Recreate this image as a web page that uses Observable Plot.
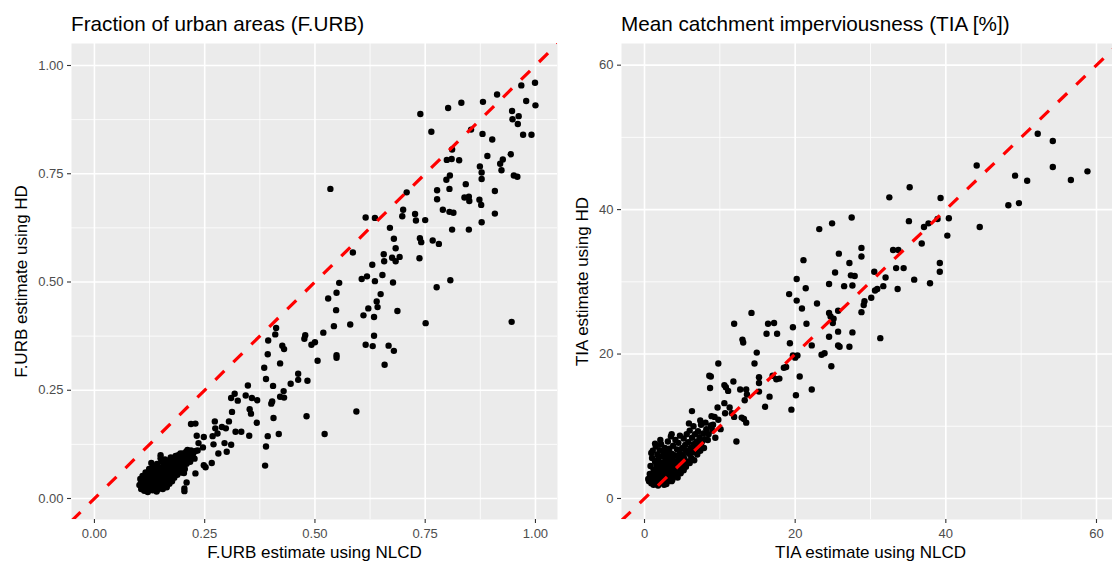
<!DOCTYPE html>
<html><head><meta charset="utf-8">
<script src="https://cdn.jsdelivr.net/npm/d3@7"></script>
<script src="https://cdn.jsdelivr.net/npm/@observablehq/plot@0.6"></script>
<style>
body{margin:0;background:#fff;}
#wrap{position:relative;width:1112px;height:563px;overflow:hidden;background:#fff;font-family:"Liberation Sans",Arial,sans-serif;}
.panel{position:absolute;top:0;height:563px;}
.title{position:absolute;top:14px;font-size:20.7px;line-height:20.7px;color:#000;white-space:nowrap;}
.panel svg{position:absolute;top:43px;left:0;}
</style></head>
<body><div id="wrap"></div>
<script>
// ---------- text ----------
const furbTitle = "Fraction of urban areas (F.URB)";
const furbXLabel = "F.URB estimate using NLCD";
const furbYLabel = "F.URB estimate using HD";
const tiaTitle = "Mean catchment imperviousness (TIA [%])";
const tiaXLabel = "TIA estimate using NLCD";
const tiaYLabel = "TIA estimate using HD";

// ---------- ticks ----------
const furbTicks = [0, 0.25, 0.5, 0.75, 1];
const furbMinor = [0.125, 0.375, 0.625, 0.875];
const tiaTicks = [0, 20, 40, 60];
const tiaMinor = [10, 30, 50];

// ---------- scale ranges ----------
const furbXDomain = [-0.052, 1.050];
const furbYDomain = [-0.0485, 1.0508];
const tiaXDomain = [-3.055, 63.055];
const tiaYDomain = [-2.91, 63.0];

// ---------- F.URB points [NLCD, HD] ----------
const furbUpper = [
[0.535,0.715],[0.739,0.888],[0.802,0.902],[0.832,0.914],[0.881,0.916],[0.913,0.933],[0.968,0.954],[0.999,0.960],[1.000,0.908],[0.979,0.918],
[0.947,0.895],[0.948,0.876],[0.962,0.883],[0.960,0.865],[0.972,0.840],[0.991,0.840],[0.764,0.847],[0.854,0.852],[0.880,0.842],[0.902,0.829],
[0.811,0.806],[0.799,0.782],[0.810,0.784],[0.827,0.781],[0.891,0.791],[0.944,0.795],[0.926,0.783],[0.920,0.773],[0.923,0.758],[0.874,0.767],
[0.878,0.753],[0.878,0.738],[0.951,0.746],[0.959,0.743],[0.806,0.746],[0.798,0.736],[0.805,0.715],[0.842,0.726],[0.777,0.712],[0.908,0.710],
[0.708,0.707],[0.839,0.695],[0.849,0.697],[0.850,0.687],[0.873,0.690],[0.877,0.678],[0.777,0.691],[0.700,0.667],[0.790,0.667],[0.805,0.662],
[0.814,0.660],[0.727,0.657],[0.729,0.642],[0.750,0.643],[0.698,0.652],[0.615,0.649],[0.636,0.648],[0.908,0.658],[0.878,0.638],[0.670,0.625],
[0.811,0.621],[0.849,0.621],[0.679,0.600],[0.738,0.601],[0.741,0.592],[0.767,0.596],[0.781,0.588],[0.586,0.568],[0.656,0.564],[0.683,0.578],
[0.675,0.556],[0.692,0.558],[0.683,0.548],[0.657,0.548],[0.737,0.555],[0.630,0.540],[0.606,0.507],[0.618,0.513],[0.653,0.516],[0.636,0.502],
[0.677,0.499],[0.555,0.498],[0.807,0.504],[0.776,0.488]
];
const furbMiddle = [
[0.946,0.408],[0.751,0.405],[0.687,0.433],[0.649,0.472],[0.640,0.455],[0.642,0.442],[0.621,0.439],[0.610,0.423],[0.634,0.419],[0.634,0.376],
[0.615,0.355],[0.631,0.352],[0.667,0.353],[0.679,0.341],[0.658,0.309],[0.580,0.402],[0.548,0.435],[0.543,0.398],[0.530,0.462],[0.549,0.475],
[0.519,0.383],[0.500,0.361],[0.492,0.355],[0.478,0.377],[0.476,0.369],[0.549,0.331],[0.549,0.325],[0.506,0.318],[0.462,0.288],[0.462,0.274],
[0.483,0.272],[0.445,0.265],[0.594,0.201],[0.481,0.190],[0.522,0.149],[0.412,0.394],[0.410,0.379],[0.394,0.365],[0.393,0.333],[0.385,0.302],
[0.389,0.276],[0.426,0.353],[0.430,0.345],[0.421,0.312],[0.405,0.260],[0.429,0.248],[0.421,0.235],[0.430,0.233],[0.403,0.224],[0.401,0.219],
[0.406,0.186],[0.418,0.149],[0.393,0.144],[0.389,0.120],[0.387,0.076],[0.348,0.261],[0.343,0.238],[0.357,0.232],[0.369,0.227],[0.352,0.206],
[0.355,0.196],[0.368,0.175],[0.351,0.145],[0.318,0.242],[0.310,0.232],[0.325,0.226],[0.312,0.200],[0.305,0.178],[0.320,0.154],[0.333,0.154],
[0.310,0.124],[0.295,0.128],[0.300,0.108],[0.281,0.104],[0.289,0.165],[0.298,0.162],[0.273,0.178],[0.274,0.162],[0.279,0.150],[0.268,0.144],
[0.270,0.125],[0.266,0.082],[0.248,0.142],[0.246,0.118],[0.248,0.077],[0.252,0.072],[0.229,0.173],[0.219,0.172],[0.232,0.145],[0.236,0.128],
[0.234,0.111],[0.229,0.058],[0.209,0.037],[0.204,0.023],[0.204,0.017],[0.203,0.059],[0.211,0.112],[0.217,0.104],[0.225,0.108],[0.201,0.104]
];
const furbCluster = [
[0.102,0.031],[0.104,0.045],[0.106,0.022],[0.108,0.038],[0.109,0.052],[0.111,0.027],[0.112,0.041],[0.113,0.018],[0.115,0.034],[0.116,0.060],
[0.117,0.047],[0.118,0.025],[0.120,0.039],[0.121,0.015],[0.122,0.055],[0.123,0.030],[0.124,0.068],[0.125,0.043],[0.126,0.022],[0.127,0.035],
[0.128,0.050],[0.129,0.062],[0.130,0.028],[0.131,0.040],[0.132,0.019],[0.133,0.073],[0.134,0.033],[0.135,0.048],[0.136,0.057],[0.137,0.025],
[0.138,0.038],[0.139,0.066],[0.140,0.044],[0.141,0.030],[0.142,0.080],[0.143,0.052],[0.144,0.021],[0.145,0.037],[0.146,0.060],[0.147,0.045],
[0.148,0.071],[0.149,0.032],[0.150,0.055],[0.151,0.040],[0.152,0.085],[0.153,0.026],[0.154,0.063],[0.155,0.048],[0.156,0.035],[0.157,0.076],
[0.158,0.057],[0.159,0.043],[0.160,0.090],[0.161,0.068],[0.162,0.030],[0.163,0.051],[0.164,0.082],[0.165,0.040],[0.166,0.061],[0.167,0.073],
[0.168,0.047],[0.169,0.036],[0.170,0.088],[0.171,0.057],[0.172,0.066],[0.173,0.095],[0.174,0.044],[0.175,0.078],[0.176,0.052],[0.177,0.085],
[0.178,0.062],[0.179,0.070],[0.180,0.093],[0.181,0.048],[0.182,0.075],[0.183,0.058],[0.184,0.098],[0.185,0.083],[0.186,0.067],[0.187,0.090],
[0.188,0.055],[0.189,0.078],[0.190,0.100],[0.191,0.086],[0.192,0.065],[0.193,0.094],[0.194,0.073],[0.195,0.104],[0.196,0.082],[0.197,0.060],
[0.198,0.091],[0.199,0.097],[0.200,0.076],[0.202,0.102],[0.203,0.087],[0.205,0.068],[0.206,0.095],[0.208,0.108],[0.209,0.080],[0.211,0.099],
[0.213,0.090],[0.215,0.106],[0.217,0.085],[0.219,0.111],[0.221,0.097],[0.224,0.104],[0.227,0.092],[0.230,0.110],
[0.105,0.035],[0.108,0.025],[0.110,0.044],[0.112,0.030],[0.114,0.051],[0.116,0.022],[0.118,0.036],[0.119,0.058],[0.121,0.045],[0.123,0.020],
[0.126,0.052],[0.128,0.038],[0.130,0.064],[0.132,0.045],[0.134,0.024],[0.137,0.070],[0.139,0.055],[0.141,0.016],[0.143,0.042],[0.146,0.028],
[0.149,0.065],[0.152,0.050],[0.155,0.022],[0.158,0.080],[0.161,0.044],[0.164,0.026],[0.167,0.059],[0.170,0.034],[0.173,0.050],[0.176,0.040],
[0.180,0.066],[0.129,0.082],[0.150,0.093],[0.150,0.100],[0.190,0.098]
];

// ---------- TIA points [NLCD, HD] ----------
const tiaUpper = [
[52.2,50.5],[54.2,49.5],[54.2,45.9],[58.8,45.3],[56.6,44.1],[49.2,44.7],[50.8,44.0],[44.1,46.1],[48.3,40.6],[49.7,40.9],
[44.5,37.6],[35.2,43.1],[32.5,41.7],[39.3,41.6],[40.4,38.8],[38.9,38.7],[35.1,38.4],[37.7,38.1],[37.1,37.6],[40.2,36.4],
[36.8,35.3],[27.5,38.9],[24.9,38.1],[23.2,37.3],[28.8,34.7],[28.8,33.5],[33.0,34.4],[33.7,34.4],[25.8,33.9],[21.1,33.0],
[27.2,32.6],[25.3,31.3],[27.4,30.9],[27.9,30.8],[30.5,31.4],[33.4,31.9],[34.4,31.9],[32.0,30.6],[35.8,30.3],[39.2,32.6],
[39.2,31.4],[37.9,29.8],[33.6,29.0],[20.2,30.4],[21.4,29.1],[24.5,29.7],[26.5,29.4],[27.6,29.5],[31.7,29.4],[30.9,29.0]
];
const tiaMiddle = [
[30.6,28.8],[30.1,27.8],[29.2,27.3],[29.1,26.8],[28.8,25.8],[19.2,28.3],[20.2,27.4],[20.9,26.3],[22.9,27.0],[24.5,25.7],
[24.7,25.2],[25.7,26.0],[25.1,24.9],[25.0,24.3],[21.5,24.2],[19.7,23.7],[14.2,25.7],[11.9,24.2],[16.4,24.2],[17.2,24.3],
[16.2,22.8],[17.6,22.8],[13.0,22.0],[13.1,21.6],[14.9,20.2],[14.6,18.7],[9.8,18.7],[19.3,21.5],[19.7,19.8],[20.3,19.8],
[20.0,19.5],[22.2,21.2],[23.5,19.9],[23.9,20.1],[24.5,22.4],[25.7,23.1],[25.7,21.2],[25.9,21.0],[27.2,21.0],[27.6,23.0],
[31.3,22.2],[24.8,18.3],[18.8,18.2],[18.5,18.1],[20.6,16.9],[20.1,14.3],[19.5,12.3],[22.2,15.1],[17.0,17.0],[17.5,16.5],
[17.9,16.6],[15.2,16.8],[15.2,16.0],[15.2,14.8],[16.6,14.1],[16.0,12.7],[13.5,15.1],[13.6,14.4],[13.3,13.6],[12.7,15.1],
[8.6,17.0],[8.8,16.9],[8.7,15.3],[11.8,16.2],[10.6,15.7],[11.1,14.9],[10.8,15.4],[9.7,12.6],[10.6,13.2],[11.3,12.6],
[11.6,11.8],[12.9,11.2],[13.5,10.5],[13.2,11.0],[11.9,11.3],[12.2,7.9],[6.3,12.1],[5.9,10.4],[7.4,10.8],[8.1,10.5],
[8.9,11.4],[9.3,11.3],[9.8,10.9],[8.9,9.9],[10.1,9.6],[9.4,8.4],[8.4,8.1],[7.4,6.8],[3.6,8.9],[10.7,11.8],[9.1,10.2]
];
const tiaCluster = [
[0.6,2.4],[0.7,3.4],[0.8,4.5],[0.9,2.1],[1.0,5.6],[1.0,3.0],[1.1,6.6],[1.2,1.9],[1.2,4.0],[1.3,2.8],
[1.4,5.1],[1.4,3.6],[1.5,7.2],[1.5,2.3],[1.6,4.6],[1.7,3.2],[1.7,6.1],[1.8,1.8],[1.8,5.4],[1.9,2.7],
[1.9,4.1],[2.0,3.5],[2.0,6.7],[2.1,2.2],[2.1,4.9],[2.2,3.0],[2.2,7.5],[2.3,5.8],[2.3,4.3],[2.4,2.5],
[2.4,3.8],[2.5,6.3],[2.5,5.0],[2.6,1.9],[2.6,3.3],[2.7,4.6],[2.7,7.0],[2.8,2.9],[2.8,5.5],[2.9,3.9],
[2.9,6.0],[3.0,2.3],[3.0,4.4],[3.1,7.9],[3.1,3.4],[3.2,5.2],[3.2,6.6],[3.3,2.8],[3.3,4.0],[3.4,5.7],
[3.5,3.1],[3.5,8.6],[3.6,4.7],[3.6,6.2],[3.7,2.6],[3.7,3.7],[3.8,5.3],[3.8,7.3],[3.9,4.3],[4.0,3.2],
[4.0,6.0],[4.1,8.1],[4.1,5.0],[4.2,3.6],[4.3,6.8],[4.3,4.5],[4.4,2.9],[4.5,5.6],[4.5,7.7],[4.6,4.0],
[4.7,6.3],[4.7,8.7],[4.8,3.5],[4.9,5.2],[5.0,7.0],[5.0,4.6],[5.1,6.0],[5.2,8.3],[5.2,3.9],[5.3,5.5],
[5.4,7.4],[5.5,4.4],[5.5,6.6],[5.6,8.9],[5.7,5.1],[5.8,7.8],[5.9,6.2],[6.0,4.9],[6.0,9.4],[6.1,7.0],
[6.2,5.6],[6.3,8.4],[6.4,6.4],[6.5,10.0],[6.5,7.5],[6.6,5.3],[6.7,8.9],[6.8,6.8],[6.9,7.9],[7.0,6.1],
[7.1,9.3],[7.2,7.2],[7.3,8.5],[7.4,6.6],[7.5,10.2],[7.6,7.8],[7.8,9.0],[7.9,7.0],[8.0,8.2],[8.2,9.6],
[8.5,8.9],[8.8,10.1],[9.0,9.4],
[1.1,2.5],[1.3,3.5],[1.6,2.0],[2.0,2.6],[2.3,3.1],[2.5,4.1],[2.8,3.6],[3.0,5.0],[3.4,4.8],[3.9,3.5],
[4.2,4.1],[4.6,5.3],[5.0,5.8],[5.4,5.0],[1.9,5.8],[2.6,5.9],[3.3,6.9],[0.9,6.3],[1.4,7.6],[2.1,8.1],
[0.5,2.7],[3.6,2.4],[2.9,2.0]
];

const FONT = '"Liberation Sans", Arial, sans-serif';

function makePanel(o) {
  const lo = Math.min(o.xDomain[0], o.yDomain[0]);
  const hi = Math.max(o.xDomain[1], o.yDomain[1]);
  const diag = [{x1: lo, y1: lo, x2: hi, y2: hi}];
  const grid = {stroke: "white", strokeOpacity: 1};
  return Plot.plot({
    width: o.width, height: 520,
    marginLeft: o.marginLeft, marginRight: 0, marginTop: 0, marginBottom: 44,
    style: {fontFamily: FONT, fontSize: "13px", background: "transparent", overflow: "visible"},
    x: {domain: o.xDomain},
    y: {domain: o.yDomain},
    marks: [
      Plot.frame({fill: "#EBEBEB", stroke: "none"}),
      Plot.gridX(o.minor, {...grid, strokeWidth: 0.8}),
      Plot.gridY(o.minor, {...grid, strokeWidth: 0.8}),
      Plot.gridX(o.major, {...grid, strokeWidth: 1.6}),
      Plot.gridY(o.major, {...grid, strokeWidth: 1.6}),
      Plot.axisX(o.major, {tickSize: 4, tickPadding: 5, tickFormat: o.fmt, stroke: "#333333", strokeWidth: 1.1, fill: "#4D4D4D", fontSize: 13, label: null}),
      Plot.axisY(o.major, {tickSize: 4, tickPadding: 4, tickFormat: o.fmt, stroke: "#333333", strokeWidth: 1.1, fill: "#4D4D4D", fontSize: 13, label: null}),
      Plot.dot(o.points, {x: d => d[0], y: d => d[1], r: 3.2, fill: "black", stroke: "none"}),
      Plot.link(diag, {x1: "x1", y1: "y1", x2: "x2", y2: "y2", stroke: "red", strokeWidth: 3.2, strokeDasharray: "12.6,12.6", clip: true}),
      Plot.text([o.xLabel], {text: d => d, frameAnchor: "bottom", textAnchor: "middle", lineAnchor: "middle", dy: 32.9, fontSize: 17, fill: "black"}),
      Plot.text([o.yLabel], {text: d => d, frameAnchor: "left", textAnchor: "middle", lineAnchor: "middle", rotate: -90, dx: o.yLabelDx, fontSize: 17, fill: "black"})
    ]
  });
}

function addPanel(left, width, titleLeft, title, svg) {
  const div = document.createElement("div");
  div.className = "panel";
  div.style.left = left + "px";
  div.style.width = width + "px";
  const t = document.createElement("div");
  t.className = "title";
  t.style.left = titleLeft + "px";
  t.textContent = title;
  div.appendChild(t);
  div.appendChild(svg);
  document.getElementById("wrap").appendChild(div);
}

const fmt2 = d3.format(".2f");
const fmt0 = d3.format("d");

addPanel(0, 557, 71, furbTitle, makePanel({
  points: [...furbUpper, ...furbMiddle, ...furbCluster],
  xDomain: furbXDomain, yDomain: furbYDomain,
  major: furbTicks, minor: furbMinor, fmt: fmt2,
  xLabel: furbXLabel, yLabel: furbYLabel,
  width: 557, marginLeft: 71, yLabelDx: -50.4
}));

addPanel(556, 563, 65, tiaTitle, makePanel({
  points: [...tiaUpper, ...tiaMiddle, ...tiaCluster],
  xDomain: tiaXDomain, yDomain: tiaYDomain,
  major: tiaTicks, minor: tiaMinor, fmt: fmt0,
  xLabel: tiaXLabel, yLabel: tiaYLabel,
  width: 563, marginLeft: 65, yLabelDx: -38.9
}));
</script>
</body></html>
